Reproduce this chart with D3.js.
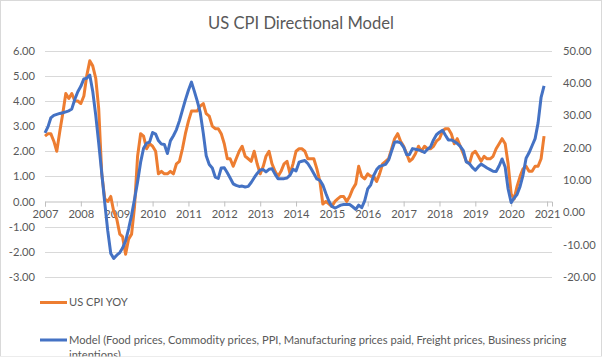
<!DOCTYPE html>
<html>
<head>
<meta charset="utf-8">
<script src="https://cdn.jsdelivr.net/npm/d3@7"></script>
<style>
  body { margin: 0; background: #fff; }
  svg { display: block; }
  text { font-family: Lato, "Open Sans", sans-serif; fill: #595959; }
</style>
</head>
<body>
<div id="chart"></div>
<script>
'use strict';

// Monthly points, Jan 2007 .. Dec 2020 (as plotted)
var startYear = 2007;

// US CPI YOY (left axis)
var cpiValues = [
  2.6, 2.7, 2.7, 2.4, 2.0, 2.8, 3.5, 4.3, 4.1,
  4.3, 4.0, 4.0, 3.9, 4.2, 5.0, 5.6, 5.4, 4.9, 3.7, 1.1, 0.1,
  0.0, 0.2, -0.4, -0.7, -1.3, -1.4, -2.1, -1.5, -1.3, -0.2, 1.8, 2.7,
  2.6, 2.1, 2.3, 2.2, 2.0, 1.1, 1.2, 1.1, 1.1, 1.2, 1.1, 1.5,
  1.6, 2.1, 2.7, 3.2, 3.6, 3.6, 3.6, 3.8, 3.9, 3.5, 3.4, 3.0,
  2.9, 2.9, 2.7, 2.3, 1.7, 1.7, 1.4, 1.7, 2.0, 2.2, 1.8, 1.7,
  1.6, 2.0, 1.5, 1.1, 1.4, 1.8, 2.0, 1.5, 1.2, 1.0, 1.2, 1.5,
  1.6, 1.1, 1.5, 2.0, 2.1, 2.1, 2.0, 1.7, 1.7, 1.7, 1.3, 0.8,
  -0.1, 0.0, -0.1, -0.2, 0.0, 0.1, 0.2, 0.2, 0.0, 0.2, 0.5, 0.7,
  1.4, 1.0, 0.9, 1.1, 1.0, 1.0, 0.8, 1.1, 1.5, 1.6, 1.7, 2.1,
  2.5, 2.7, 2.4, 2.2, 1.9, 1.6, 1.7, 1.9, 2.2, 2.0, 2.2, 2.1,
  2.1, 2.2, 2.4, 2.5, 2.8, 2.9, 2.9, 2.7, 2.3, 2.5, 2.2, 1.9,
  1.6, 1.5, 1.9, 2.0, 1.8, 1.6, 1.8, 1.7, 1.7, 1.8, 2.1, 2.3,
  2.5, 2.3, 1.5, 0.3, 0.1, 0.6, 1.0, 1.3, 1.4, 1.2, 1.2, 1.4,
  1.4, 1.7, 2.6
];

// Model (right axis)
var modelValues = [
  24.6, 26.5, 29.2, 30.0, 30.3, 30.6, 30.8, 31.1, 31.4, 32.0, 35.0, 37.3,
  39.0, 41.3, 41.5, 42.5, 37.5, 30.0, 21.4, 12.1, 2.8, -5.7, -12.8, -14.3,
  -13.3, -12.5, -11.1, -8.9, -5.2, -0.9, 4.0, 9.4, 15.5, 19.8, 21.4, 21.7,
  24.7, 24.2, 22.2, 21.1, 21.0, 18.2, 22.1, 23.7, 25.6, 28.3, 31.6, 34.8,
  37.8, 40.3, 37.6, 34.4, 30.9, 24.5, 17.5, 14.8, 13.7, 10.9, 10.5, 13.7,
  13.8, 12.2, 10.6, 8.8, 8.3, 8.0, 8.1, 7.8, 8.0, 9.2, 10.7, 12.0,
  13.1, 13.2, 12.5, 13.3, 13.5, 11.8, 10.4, 10.4, 10.4, 10.6, 11.5, 13.3,
  12.8, 15.5, 15.8, 16.0, 15.1, 13.6, 12.0, 10.3, 9.9, 8.4, 5.8, 3.5,
  1.8, 1.3, 1.7, 2.2, 2.4, 2.4, 2.4, 1.7, 0.9, 2.2, 1.4, 3.5,
  7.2, 8.5, 11.3, 13.2, 14.2, 14.5, 14.8, 16.2, 19.0, 21.7, 21.8, 21.5,
  20.2, 17.8, 17.9, 19.7, 19.5, 19.3, 19.0, 18.5, 19.5, 20.2, 22.4, 24.0,
  24.8, 25.4, 23.9, 22.4, 22.4, 21.9, 21.3, 20.4, 19.1, 15.6, 15.1, 13.9,
  13.0, 14.1, 14.9, 14.3, 13.7, 13.2, 12.7, 12.6, 14.4, 16.5, 14.0, 7.2,
  3.0, 4.4, 5.5, 8.0, 11.5, 16.7, 18.4, 20.6, 22.8, 27.6, 35.6, 39.1
];

var leftTicks = [-3, -2, -1, 0, 1, 2, 3, 4, 5, 6];
var rightTicks = [-20, -10, 0, 10, 20, 30, 40, 50];

var titleText = 'US CPI Directional Model';
var seriesNames = [
  'US CPI YOY',
  'Model (Food prices, Commodity prices, PPI, Manufacturing prices paid, Freight prices, Business pricing',
  'intentions)'
];

var width = 603, height = 358;
var plot = {left: 45, right: 552, top: 50.8, bottom: 276.8};
var orange = '#ED7D31', blue = '#4472C4';

var dates = cpiValues.map(function(d, i) { return new Date(startYear, i, 1); });

var x = d3.scaleTime()
  .domain([new Date(2007, 0, 1), new Date(2021, 1, 20)])
  .range([plot.left, plot.right]);
var yLeft = d3.scaleLinear().domain([-3, 6]).range([plot.bottom, plot.top]);
var yRight = d3.scaleLinear().domain([-20, 50]).range([plot.bottom, plot.top]);

var fmt = function(d) { return d.toFixed(2); };

var svg = d3.select('#chart').append('svg')
  .attr('width', width)
  .attr('height', height);

svg.append('clipPath').attr('id', 'frame')
  .append('rect').attr('x', 0).attr('y', 0).attr('width', 602).attr('height', 356.5);

var g = svg.append('g').attr('clip-path', 'url(#frame)');

g.append('rect')
  .attr('x', 0.5).attr('y', 0.5)
  .attr('width', 601).attr('height', 356)
  .attr('fill', '#fff')
  .attr('stroke', '#d9d9d9');

// Gridlines
g.append('g').selectAll('line')
  .data(leftTicks.filter(function(d) { return d !== 0; }))
  .enter().append('line')
  .attr('x1', plot.left).attr('x2', plot.right)
  .attr('y1', function(d) { return Math.round(yLeft(d)) + 0.5; })
  .attr('y2', function(d) { return Math.round(yLeft(d)) + 0.5; })
  .attr('stroke', '#d9d9d9');

// Title
var title = g.append('text')
  .attr('x', 301).attr('y', 29)
  .attr('text-anchor', 'middle')
  .style('font-size', '18px')
  .text(titleText);

// Left axis
var leftAxis = g.append('g')
  .attr('transform', 'translate(' + plot.left + ',0)')
  .call(d3.axisLeft(yLeft).tickValues(leftTicks).tickFormat(fmt).tickSize(0).tickPadding(10));
leftAxis.select('.domain').remove();

// Right axis
var rightAxis = g.append('g')
  .attr('transform', 'translate(' + plot.right + ',0)')
  .call(d3.axisRight(yRight).tickValues(rightTicks).tickFormat(fmt).tickSize(0).tickPadding(11));
rightAxis.select('.domain').remove();

// Date axis sits on zero of the left axis
var xAxis = g.append('g')
  .attr('transform', 'translate(0,' + (Math.round(yLeft(0)) + 0.5) + ')')
  .call(d3.axisBottom(x).ticks(d3.timeYear.every(1)).tickFormat(d3.timeFormat('%Y')).tickSizeOuter(0).tickSize(5).tickPadding(4));
xAxis.select('.domain').attr('stroke', '#bfbfbf');
xAxis.selectAll('.tick line').attr('stroke', '#bfbfbf');

g.selectAll('.tick text').attr('fill', '#595959').style('font-family', null);

// Lines
var cpiLine = d3.line()
  .x(function(d, i) { return x(dates[i]); })
  .y(function(d) { return yLeft(d); });
var modelLine = d3.line()
  .x(function(d, i) { return x(dates[i]); })
  .y(function(d) { return yRight(d); });

g.append('path')
  .datum(cpiValues)
  .attr('fill', 'none')
  .attr('stroke', orange)
  .attr('stroke-width', 3)
  .attr('stroke-linejoin', 'round')
  .attr('d', cpiLine);

g.append('path')
  .datum(modelValues)
  .attr('fill', 'none')
  .attr('stroke', blue)
  .attr('stroke-width', 3)
  .attr('stroke-linejoin', 'round')
  .attr('d', modelLine);

// Legend
var legend = g.append('g');
legend.append('line')
  .attr('x1', 40).attr('x2', 67).attr('y1', 302.5).attr('y2', 302.5)
  .attr('stroke', orange).attr('stroke-width', 3);
legend.append('line')
  .attr('x1', 40).attr('x2', 67).attr('y1', 340).attr('y2', 340)
  .attr('stroke', blue).attr('stroke-width', 3);

var l1 = legend.append('text').attr('x', 69).attr('y', 302.5).attr('dy', '0.35em').text(seriesNames[0]);
var l2 = legend.append('text').attr('x', 69).attr('y', 340).attr('dy', '0.35em').text(seriesNames[1]);
var l3 = legend.append('text').attr('x', 69).attr('y', 355).attr('dy', '0.35em').text(seriesNames[2]);

// Size fonts to the reference text widths
var base = 11;
l2.style('font-size', base + 'px');
var fs = base * 498 / l2.node().getComputedTextLength();
[l1, l2, l3].forEach(function(t) { t.style('font-size', fs + 'px'); });
g.selectAll('.tick text').style('font-size', fs + 'px');

var tfs = 18 * 186 / title.node().getComputedTextLength();
title.style('font-size', tfs + 'px');
</script>
</body>
</html>
